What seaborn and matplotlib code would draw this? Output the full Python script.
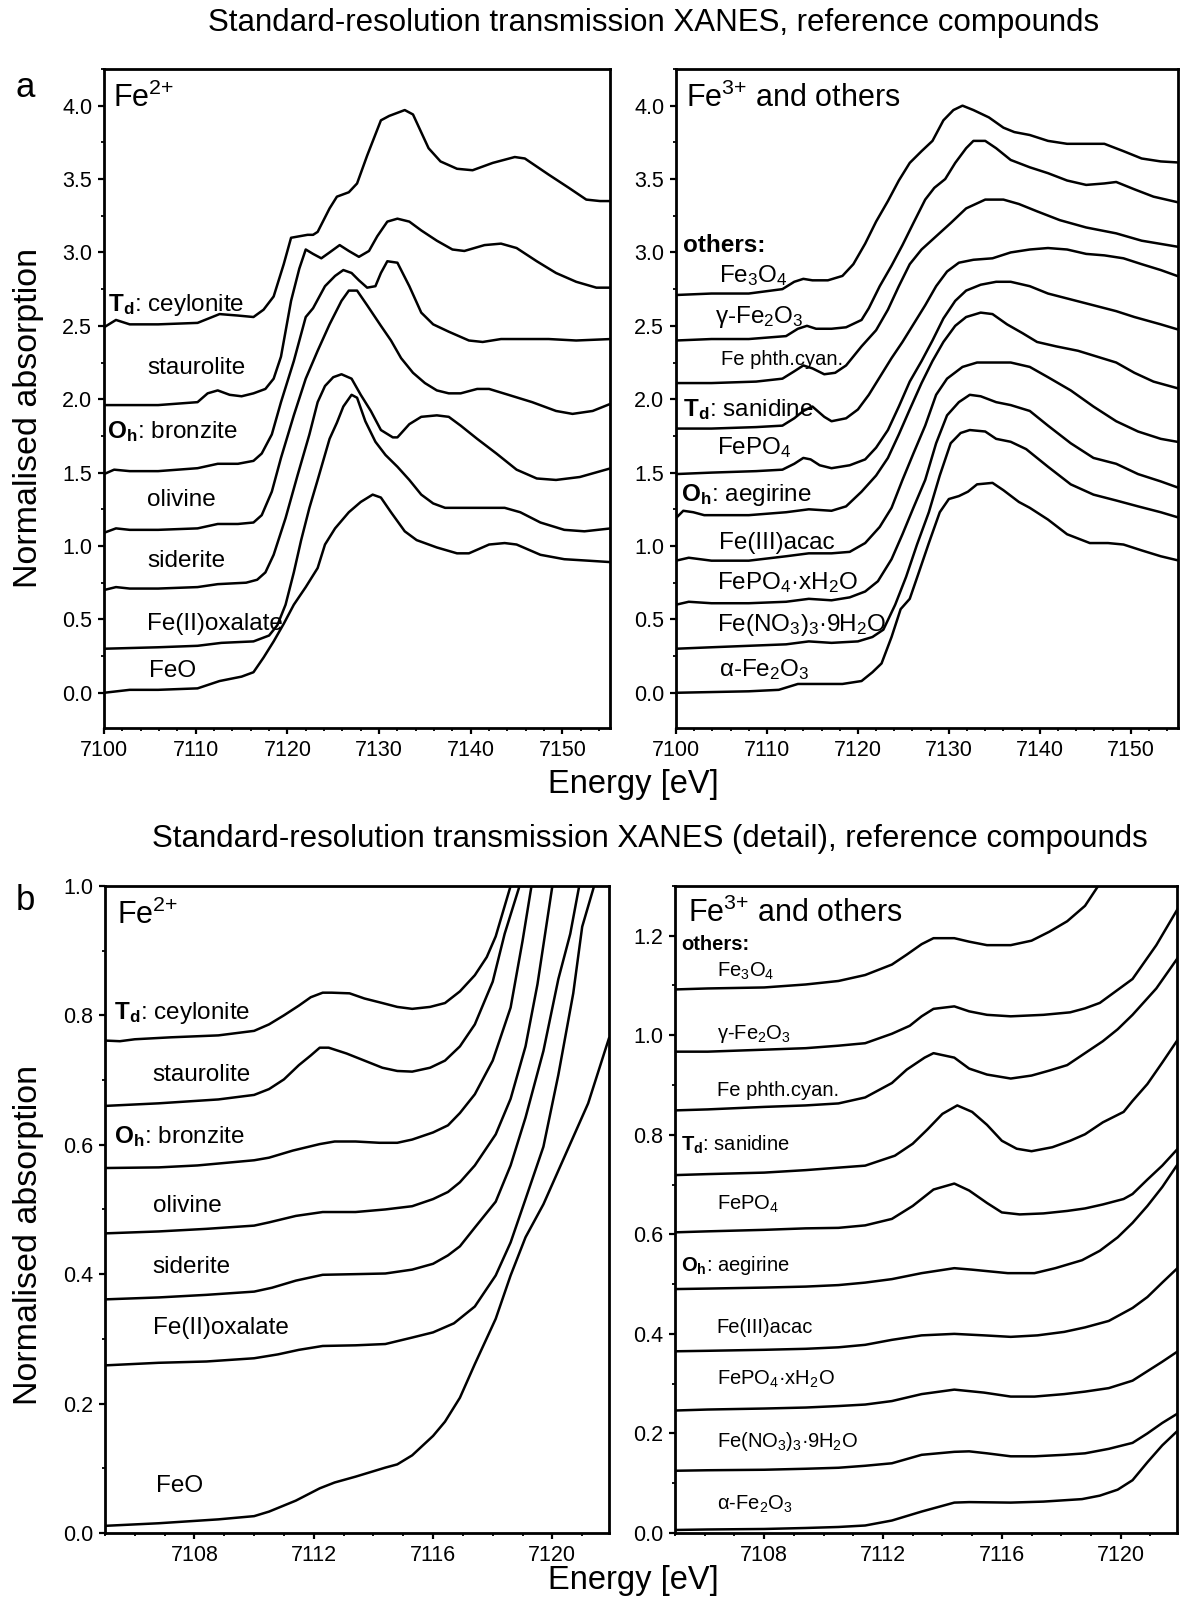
import numpy as np
import pandas as pd
import matplotlib
matplotlib.use("Agg")
import matplotlib.pyplot as plt
from matplotlib.ticker import MultipleLocator, FormatStrFormatter
import seaborn as sns

# ---------------- data: top-left (Fe2+), displayed (offset) values ----------------
ceylonite_E = [7100, 7101.3, 7102.8, 7105.9, 7110.2, 7112.6, 7114.6, 7116.3, 7117.4, 7118.5, 7119.6, 7120.4, 7122.2, 7122.8, 7123.3, 7124.6, 7125.4, 7126.7, 7127.6, 7128.7, 7130.2, 7131.1, 7132.8, 7133.7, 7135.4, 7136.7, 7138.5, 7140.2, 7142.4, 7144.8, 7145.9, 7148.5, 7150.7, 7152.6, 7154.1, 7155.3]
ceylonite_mu = [2.49, 2.54, 2.51, 2.51, 2.52, 2.58, 2.57, 2.56, 2.61, 2.70, 2.92, 3.10, 3.12, 3.12, 3.14, 3.30, 3.38, 3.41, 3.47, 3.66, 3.90, 3.93, 3.97, 3.94, 3.71, 3.62, 3.57, 3.56, 3.61, 3.65, 3.64, 3.53, 3.44, 3.36, 3.35, 3.35]
staurolite_E = [7100, 7105.9, 7110.2, 7111.3, 7112.4, 7113.7, 7115, 7116.3, 7117.6, 7118.5, 7119.3, 7120.4, 7121.3, 7122, 7122.8, 7123.7, 7124.6, 7125.7, 7126.7, 7127.8, 7128.9, 7129.8, 7130.9, 7132, 7133.3, 7134.6, 7136.3, 7138, 7139.3, 7141.5, 7143.3, 7145, 7147.2, 7149.3, 7151.5, 7153.7, 7155.3]
staurolite_mu = [1.96, 1.96, 1.98, 2.04, 2.06, 2.03, 2.02, 2.04, 2.07, 2.14, 2.29, 2.67, 2.89, 3.02, 2.99, 2.96, 3.00, 3.05, 3.01, 2.97, 3.01, 3.11, 3.21, 3.23, 3.21, 3.15, 3.08, 3.02, 3.01, 3.05, 3.06, 3.03, 2.94, 2.86, 2.80, 2.76, 2.76]
bronzite_E = [7100, 7101.1, 7102.8, 7105.9, 7110.2, 7112.4, 7114.6, 7116.3, 7117.2, 7118.3, 7119.3, 7120.7, 7122, 7122.8, 7124.1, 7125.2, 7126.1, 7127, 7127.8, 7128.7, 7129.6, 7130.2, 7130.9, 7132, 7133.3, 7134.6, 7135.9, 7137.6, 7139.8, 7141.3, 7143.3, 7145.9, 7148.5, 7151.5, 7155.3]
bronzite_mu = [1.49, 1.52, 1.51, 1.51, 1.53, 1.56, 1.56, 1.58, 1.63, 1.76, 1.98, 2.26, 2.56, 2.62, 2.77, 2.84, 2.88, 2.86, 2.81, 2.76, 2.77, 2.86, 2.94, 2.93, 2.77, 2.59, 2.51, 2.46, 2.40, 2.39, 2.41, 2.41, 2.41, 2.40, 2.41]
olivine_E = [7100, 7101.3, 7102.8, 7105.9, 7110.2, 7112.4, 7114.6, 7116.3, 7117.2, 7118.3, 7119.3, 7120.7, 7122, 7123.3, 7124.6, 7125.9, 7126.7, 7127.6, 7128.7, 7130.2, 7131.3, 7132.4, 7133.7, 7135, 7136.3, 7137.6, 7138.9, 7140.7, 7142, 7144.1, 7146.7, 7149.3, 7151.1, 7153.3, 7155.3]
olivine_mu = [1.09, 1.12, 1.11, 1.11, 1.12, 1.15, 1.15, 1.16, 1.21, 1.37, 1.60, 1.89, 2.14, 2.33, 2.51, 2.67, 2.74, 2.74, 2.64, 2.50, 2.40, 2.28, 2.18, 2.11, 2.06, 2.04, 2.04, 2.07, 2.07, 2.03, 1.98, 1.92, 1.90, 1.92, 1.97]
siderite_E = [7100, 7101.3, 7102.8, 7105.9, 7110.2, 7112.4, 7115.5, 7116.7, 7117.6, 7118.5, 7119.8, 7121.1, 7122.4, 7123.3, 7124.1, 7125, 7125.9, 7127, 7128, 7129.1, 7130.2, 7131.5, 7132, 7133.3, 7134.6, 7136.3, 7137.6, 7138.9, 7140.7, 7142.8, 7145, 7147.2, 7149.3, 7151.9, 7155.3]
siderite_mu = [0.70, 0.72, 0.71, 0.71, 0.72, 0.74, 0.75, 0.77, 0.82, 0.94, 1.19, 1.48, 1.76, 1.98, 2.09, 2.15, 2.17, 2.14, 2.03, 1.92, 1.79, 1.74, 1.74, 1.83, 1.88, 1.89, 1.88, 1.82, 1.73, 1.63, 1.52, 1.46, 1.45, 1.47, 1.53]
oxalate_E = [7100, 7105.9, 7110.2, 7112.8, 7116.3, 7118, 7118.9, 7119.8, 7120.7, 7121.5, 7122.4, 7123.3, 7124.6, 7125.4, 7126.1, 7127, 7127.6, 7128.5, 7129.6, 7130.7, 7132, 7133.3, 7134.6, 7135.9, 7137.2, 7139.3, 7141.5, 7143.7, 7145.4, 7147.6, 7150.2, 7152.4, 7155.3]
oxalate_mu = [0.30, 0.31, 0.32, 0.34, 0.35, 0.39, 0.46, 0.60, 0.82, 1.04, 1.26, 1.45, 1.73, 1.84, 1.95, 2.03, 2.01, 1.85, 1.71, 1.62, 1.54, 1.45, 1.35, 1.29, 1.26, 1.26, 1.26, 1.26, 1.23, 1.16, 1.11, 1.10, 1.12]
feo_E = [7100, 7102.8, 7105.9, 7110.2, 7112.6, 7115, 7116.3, 7117.4, 7118.5, 7119.6, 7120.7, 7122, 7123.3, 7124.1, 7125.2, 7126.7, 7128, 7129.3, 7130.2, 7131.3, 7132.8, 7134.1, 7136.3, 7138.5, 7139.8, 7142, 7143.7, 7145, 7147.6, 7150.2, 7152.8, 7155.3]
feo_mu = [0.00, 0.02, 0.02, 0.03, 0.08, 0.11, 0.14, 0.24, 0.35, 0.47, 0.60, 0.72, 0.85, 1.01, 1.12, 1.23, 1.30, 1.35, 1.33, 1.23, 1.10, 1.04, 0.99, 0.95, 0.95, 1.01, 1.02, 1.01, 0.94, 0.91, 0.90, 0.89]

# ---------------- data: top-right (Fe3+ and others) ----------------
fe3o4_E = [7100, 7103.9, 7108, 7111.7, 7113, 7114, 7115, 7116.7, 7118.3, 7119.5, 7120.8, 7122, 7123.3, 7124.5, 7125.7, 7127, 7128.2, 7129.4, 7130.5, 7131.5, 7132.7, 7134.4, 7136, 7137.2, 7138.9, 7140.9, 7143, 7145.5, 7147.1, 7149.2, 7151.2, 7153.3, 7156]
fe3o4_mu = [2.71, 2.72, 2.72, 2.75, 2.80, 2.82, 2.81, 2.81, 2.84, 2.92, 3.06, 3.21, 3.35, 3.49, 3.61, 3.69, 3.76, 3.90, 3.97, 4.00, 3.97, 3.92, 3.85, 3.82, 3.80, 3.76, 3.74, 3.74, 3.74, 3.69, 3.64, 3.62, 3.61]
gfe2o3_E = [7100, 7103.9, 7108, 7112.1, 7113.4, 7114.4, 7115.4, 7117.1, 7118.7, 7120.4, 7121.2, 7122.4, 7123.7, 7124.9, 7126.1, 7127.4, 7128.4, 7129.6, 7130.7, 7131.9, 7132.7, 7134, 7135.2, 7136.8, 7138.9, 7140.9, 7143, 7145.1, 7147.1, 7148.4, 7150.4, 7152.5, 7156]
gfe2o3_mu = [2.40, 2.41, 2.41, 2.43, 2.48, 2.50, 2.48, 2.48, 2.49, 2.54, 2.62, 2.77, 2.91, 3.05, 3.20, 3.36, 3.44, 3.50, 3.61, 3.71, 3.76, 3.76, 3.71, 3.63, 3.58, 3.54, 3.49, 3.46, 3.47, 3.48, 3.43, 3.38, 3.33]
phth_E = [7100, 7103.9, 7108.8, 7111.7, 7113, 7114, 7115, 7116.3, 7117.5, 7118.7, 7120.4, 7122, 7123.3, 7124.5, 7125.7, 7127, 7128.6, 7130.2, 7131.9, 7134, 7136, 7137.7, 7139.7, 7142.2, 7145.1, 7148.4, 7151.2, 7156]
phth_mu = [2.11, 2.11, 2.12, 2.14, 2.19, 2.23, 2.21, 2.17, 2.18, 2.23, 2.36, 2.47, 2.61, 2.77, 2.92, 3.02, 3.11, 3.20, 3.30, 3.36, 3.36, 3.33, 3.28, 3.22, 3.17, 3.13, 3.08, 3.03]
sanidine_E = [7100, 7103.9, 7108.8, 7111.7, 7113, 7114, 7115, 7116.3, 7117.1, 7118.7, 7120, 7121.2, 7122.4, 7123.7, 7124.9, 7126.1, 7127.4, 7128.6, 7129.8, 7131.1, 7132.7, 7134.8, 7136.8, 7138.9, 7140.9, 7143, 7145.1, 7147.1, 7149.2, 7151.2, 7153.3, 7156]
sanidine_mu = [1.80, 1.80, 1.81, 1.82, 1.87, 1.92, 1.95, 1.88, 1.85, 1.87, 1.93, 2.03, 2.15, 2.28, 2.39, 2.51, 2.64, 2.77, 2.87, 2.93, 2.95, 2.96, 3.00, 3.02, 3.03, 3.02, 2.99, 2.98, 2.96, 2.92, 2.88, 2.82]
fepo4_E = [7100, 7103.9, 7108.8, 7111.7, 7113, 7114, 7114.8, 7115.8, 7117.1, 7119.1, 7120.8, 7122, 7123.3, 7124.5, 7125.7, 7127, 7128.2, 7129.4, 7130.7, 7131.9, 7133.5, 7135.2, 7136.8, 7138.9, 7140.9, 7143.4, 7145.9, 7148.4, 7150.4, 7153.3, 7156]
fepo4_mu = [1.49, 1.50, 1.51, 1.52, 1.56, 1.60, 1.59, 1.55, 1.53, 1.55, 1.59, 1.67, 1.79, 1.95, 2.12, 2.26, 2.40, 2.55, 2.67, 2.74, 2.78, 2.80, 2.80, 2.77, 2.72, 2.68, 2.64, 2.60, 2.56, 2.51, 2.46]
aegirine_E = [7100, 7100.8, 7101.9, 7103.1, 7108, 7112.1, 7114.6, 7117.1, 7118.7, 7120.4, 7122, 7123.3, 7124.5, 7125.7, 7127, 7128.2, 7129.4, 7130.7, 7131.9, 7133.5, 7134.8, 7136.4, 7138.1, 7139.7, 7141.8, 7144.2, 7146.3, 7148.4, 7150.4, 7152.5, 7156]
aegirine_mu = [1.19, 1.24, 1.23, 1.21, 1.21, 1.23, 1.25, 1.24, 1.27, 1.37, 1.48, 1.60, 1.76, 1.93, 2.11, 2.26, 2.39, 2.50, 2.56, 2.59, 2.58, 2.51, 2.45, 2.39, 2.36, 2.33, 2.29, 2.25, 2.18, 2.12, 2.06]
acac_E = [7100, 7101.4, 7103.9, 7108, 7112.1, 7114.6, 7117.1, 7119.1, 7120.8, 7122.4, 7123.7, 7124.9, 7126.1, 7127.4, 7128.6, 7129.8, 7131.5, 7133.1, 7135.2, 7136.8, 7138.9, 7140.9, 7143.4, 7145.9, 7148.4, 7150.8, 7153.3, 7156]
acac_mu = [0.90, 0.92, 0.90, 0.90, 0.93, 0.95, 0.95, 0.96, 1.02, 1.13, 1.26, 1.45, 1.63, 1.82, 2.03, 2.14, 2.22, 2.25, 2.25, 2.25, 2.22, 2.15, 2.06, 1.95, 1.85, 1.78, 1.73, 1.70]
xh2o_E = [7100, 7101.4, 7103.9, 7108, 7112.1, 7114.6, 7117.1, 7119.1, 7120.8, 7122.2, 7123.7, 7124.9, 7126.1, 7127.4, 7128.6, 7129.8, 7131.1, 7132.3, 7133.5, 7135.2, 7136.8, 7138.9, 7140.9, 7143.4, 7145.9, 7148.4, 7150.8, 7153.3, 7156]
xh2o_mu = [0.60, 0.62, 0.61, 0.61, 0.62, 0.64, 0.63, 0.65, 0.69, 0.76, 0.91, 1.08, 1.26, 1.45, 1.70, 1.89, 1.98, 2.03, 2.02, 1.98, 1.96, 1.92, 1.82, 1.70, 1.60, 1.56, 1.49, 1.44, 1.38]
nitrate_E = [7100, 7103.9, 7108, 7112.1, 7114.6, 7117.1, 7120, 7121.6, 7122.8, 7124.1, 7125.3, 7126.5, 7127.8, 7129, 7130.2, 7131.3, 7132.3, 7134, 7135.2, 7136.8, 7138.5, 7140.9, 7143.4, 7145.9, 7148.4, 7150.8, 7153.3, 7156]
nitrate_mu = [0.30, 0.31, 0.32, 0.33, 0.35, 0.34, 0.35, 0.38, 0.43, 0.60, 0.79, 1.01, 1.23, 1.48, 1.70, 1.77, 1.79, 1.78, 1.73, 1.71, 1.66, 1.54, 1.42, 1.35, 1.31, 1.27, 1.23, 1.18]
hematite_E = [7100, 7108, 7111.3, 7113.4, 7115.4, 7118.3, 7120.4, 7121.6, 7122.6, 7123.7, 7124.7, 7125.7, 7126.7, 7127.8, 7129, 7130, 7131.1, 7132.1, 7133.1, 7134.8, 7136, 7137.7, 7138.9, 7140.9, 7143, 7145.5, 7147.5, 7149.2, 7151.2, 7153.3, 7156]
hematite_mu = [0.00, 0.01, 0.02, 0.06, 0.06, 0.06, 0.08, 0.14, 0.20, 0.38, 0.57, 0.64, 0.82, 1.02, 1.23, 1.32, 1.34, 1.37, 1.42, 1.43, 1.38, 1.30, 1.26, 1.18, 1.08, 1.02, 1.02, 1.01, 0.97, 0.93, 0.89]

# ---------------- data: bottom-left (pre-edge detail, Fe2+) ----------------
d_ceylonite_E = [7105, 7105.5, 7106, 7107.2, 7108.8, 7110, 7110.5, 7111, 7111.5, 7111.9, 7112.3, 7112.6, 7113.2, 7113.7, 7114.3, 7114.8, 7115.3, 7115.9, 7116.4, 7116.9, 7117.4, 7117.8, 7118.1, 7118.6]
d_ceylonite_mu = [0.761, 0.760, 0.763, 0.766, 0.769, 0.776, 0.786, 0.800, 0.815, 0.828, 0.835, 0.835, 0.834, 0.826, 0.819, 0.813, 0.810, 0.813, 0.819, 0.837, 0.862, 0.890, 0.922, 1.0]
d_staurolite_E = [7105, 7106.8, 7108.8, 7110, 7110.5, 7111, 7111.5, 7111.9, 7112.2, 7112.5, 7113.1, 7113.7, 7114.3, 7114.8, 7115.3, 7115.9, 7116.4, 7116.9, 7117.4, 7118, 7118.4, 7118.9]
d_staurolite_mu = [0.660, 0.664, 0.670, 0.677, 0.686, 0.701, 0.723, 0.738, 0.750, 0.750, 0.741, 0.730, 0.719, 0.714, 0.713, 0.719, 0.730, 0.752, 0.786, 0.852, 0.926, 1.0]
d_bronzite_E = [7105, 7106.8, 7108.1, 7110, 7110.5, 7111.3, 7112.2, 7112.7, 7113.4, 7114.2, 7114.8, 7115.3, 7116, 7116.5, 7116.9, 7117.4, 7118, 7118.6, 7119, 7119.3]
d_bronzite_mu = [0.564, 0.565, 0.568, 0.576, 0.580, 0.591, 0.601, 0.605, 0.605, 0.603, 0.603, 0.608, 0.619, 0.630, 0.649, 0.678, 0.730, 0.812, 0.915, 1.0]
d_olivine_E = [7105, 7106.8, 7108.4, 7110, 7110.5, 7111.4, 7112.3, 7113.4, 7114.4, 7115.3, 7116, 7116.5, 7116.9, 7117.4, 7118.1, 7118.6, 7119.1, 7119.5, 7120]
d_olivine_mu = [0.463, 0.466, 0.470, 0.475, 0.480, 0.490, 0.496, 0.496, 0.500, 0.505, 0.516, 0.527, 0.542, 0.568, 0.616, 0.671, 0.752, 0.848, 1.0]
d_siderite_E = [7105, 7106.8, 7108.4, 7110, 7110.6, 7111.4, 7112.3, 7113.4, 7114.4, 7115.3, 7116, 7116.5, 7116.9, 7117.4, 7118.1, 7118.6, 7119.1, 7119.7, 7120.2, 7120.6, 7120.9]
d_siderite_mu = [0.361, 0.364, 0.368, 0.373, 0.379, 0.390, 0.399, 0.400, 0.401, 0.407, 0.416, 0.429, 0.443, 0.472, 0.512, 0.568, 0.642, 0.745, 0.856, 0.926, 1.0]
d_oxalate_E = [7105, 7106.8, 7108.4, 7110, 7110.8, 7111.5, 7112.3, 7113.4, 7114.4, 7115.3, 7116, 7116.7, 7117.4, 7118.1, 7118.6, 7119.1, 7119.7, 7120.2, 7120.7, 7121, 7121.4]
d_oxalate_mu = [0.259, 0.263, 0.265, 0.270, 0.276, 0.283, 0.289, 0.290, 0.292, 0.302, 0.310, 0.324, 0.350, 0.398, 0.449, 0.516, 0.597, 0.708, 0.834, 0.937, 1.0]
d_feo_E = [7105, 7106.8, 7108.8, 7110, 7110.5, 7111.4, 7112.2, 7112.7, 7113.4, 7114.4, 7114.8, 7115.3, 7116, 7116.4, 7116.9, 7117.4, 7118.1, 7118.6, 7119.1, 7119.7, 7120.2, 7120.7, 7121.2, 7121.9]
d_feo_mu = [0.011, 0.015, 0.021, 0.026, 0.033, 0.050, 0.069, 0.078, 0.087, 0.101, 0.106, 0.120, 0.150, 0.172, 0.209, 0.261, 0.331, 0.398, 0.457, 0.508, 0.560, 0.612, 0.664, 0.765]

# ---------------- data: bottom-right (pre-edge detail, Fe3+ and others) ----------------
d_fe3o4_E = [7105, 7106.1, 7108, 7109.4, 7110.5, 7111.4, 7112.3, 7112.8, 7113.3, 7113.7, 7114.4, 7114.9, 7115.5, 7116.3, 7117, 7117.6, 7118.2, 7118.8, 7119.2, 7119.6]
d_fe3o4_mu = [1.092, 1.094, 1.096, 1.102, 1.109, 1.121, 1.142, 1.162, 1.183, 1.195, 1.195, 1.188, 1.181, 1.181, 1.190, 1.208, 1.229, 1.260, 1.296, 1.33]
d_gfe2o3_E = [7105, 7106.1, 7108, 7109.4, 7110.5, 7111.4, 7112.3, 7112.9, 7113.3, 7113.7, 7114.4, 7114.9, 7115.5, 7116.3, 7117.4, 7118.3, 7118.8, 7119.3, 7120.4, 7121.2, 7122]
d_gfe2o3_mu = [0.967, 0.967, 0.971, 0.974, 0.979, 0.984, 1.003, 1.019, 1.038, 1.053, 1.058, 1.048, 1.041, 1.038, 1.041, 1.046, 1.054, 1.065, 1.113, 1.181, 1.262]
d_phth_E = [7105, 7106.1, 7108, 7109.4, 7110.5, 7111.4, 7112.3, 7112.8, 7113.4, 7113.7, 7114.4, 7114.9, 7115.5, 7116.3, 7117, 7117.6, 7118.2, 7118.8, 7119.4, 7119.9, 7120.4, 7121.2, 7122]
d_phth_mu = [0.849, 0.851, 0.856, 0.859, 0.863, 0.875, 0.904, 0.931, 0.955, 0.964, 0.955, 0.933, 0.921, 0.913, 0.919, 0.929, 0.940, 0.964, 0.988, 1.012, 1.041, 1.094, 1.162]
d_sanidine_E = [7105, 7106.1, 7108, 7109.4, 7110.5, 7111.4, 7112.4, 7113, 7113.5, 7114, 7114.5, 7115, 7115.5, 7116, 7116.5, 7117, 7117.7, 7118.3, 7118.8, 7119.4, 7120.1, 7120.4, 7120.9, 7121.4, 7122]
d_sanidine_mu = [0.719, 0.721, 0.724, 0.729, 0.734, 0.738, 0.758, 0.782, 0.811, 0.842, 0.859, 0.846, 0.820, 0.788, 0.772, 0.767, 0.775, 0.788, 0.801, 0.825, 0.846, 0.868, 0.902, 0.945, 0.998]
d_fepo4_E = [7105, 7106.1, 7108, 7109.4, 7110.5, 7111.4, 7112.3, 7113, 7113.7, 7114.4, 7114.9, 7115.5, 7116, 7116.6, 7117.4, 7118.2, 7118.8, 7119.4, 7120.1, 7120.4, 7120.9, 7121.4, 7122]
d_fepo4_mu = [0.604, 0.606, 0.609, 0.612, 0.613, 0.618, 0.631, 0.657, 0.690, 0.702, 0.688, 0.663, 0.644, 0.640, 0.642, 0.647, 0.652, 0.660, 0.671, 0.681, 0.710, 0.738, 0.777]
d_aegirine_E = [7105, 7106.1, 7108, 7109.4, 7110.5, 7111.4, 7112.3, 7113.3, 7114.4, 7115, 7116.2, 7117.1, 7117.8, 7118.7, 7119.3, 7119.9, 7120.4, 7120.9, 7121.4, 7122]
d_aegirine_mu = [0.490, 0.491, 0.493, 0.495, 0.498, 0.503, 0.510, 0.522, 0.532, 0.529, 0.522, 0.522, 0.532, 0.548, 0.567, 0.594, 0.623, 0.657, 0.695, 0.748]
d_acac_E = [7105, 7106.1, 7108, 7109.4, 7110.5, 7111.4, 7112.3, 7113.3, 7114.4, 7115.4, 7116.3, 7117.2, 7118.1, 7118.8, 7119.6, 7120.4, 7120.9, 7121.4, 7122]
d_acac_mu = [0.365, 0.366, 0.368, 0.370, 0.373, 0.378, 0.388, 0.397, 0.400, 0.397, 0.394, 0.397, 0.404, 0.413, 0.426, 0.452, 0.474, 0.503, 0.537]
d_xh2o_E = [7105, 7106.1, 7108, 7109.4, 7110.5, 7111.4, 7112.3, 7113.3, 7114.4, 7115.4, 7116.3, 7117.1, 7118.1, 7118.8, 7119.6, 7120.4, 7120.9, 7121.4, 7122]
d_xh2o_mu = [0.246, 0.248, 0.250, 0.252, 0.255, 0.258, 0.265, 0.279, 0.288, 0.282, 0.274, 0.274, 0.279, 0.284, 0.291, 0.306, 0.325, 0.344, 0.368]
d_nitrate_E = [7105, 7106.1, 7108, 7109.4, 7110.5, 7111.4, 7112.3, 7113.3, 7114.4, 7114.9, 7115.5, 7116.3, 7117.1, 7118.1, 7118.8, 7119.6, 7120.4, 7120.9, 7121.4, 7122]
d_nitrate_mu = [0.125, 0.126, 0.127, 0.129, 0.131, 0.135, 0.140, 0.157, 0.163, 0.164, 0.160, 0.154, 0.154, 0.157, 0.160, 0.169, 0.181, 0.200, 0.221, 0.243]
d_hematite_E = [7105, 7106.1, 7108, 7109.4, 7110.5, 7111.4, 7112.3, 7113.3, 7114.4, 7114.9, 7116.3, 7117.4, 7118.7, 7119.3, 7119.9, 7120.4, 7120.9, 7121.4, 7122]
d_hematite_mu = [0.006, 0.007, 0.008, 0.010, 0.012, 0.015, 0.025, 0.043, 0.061, 0.062, 0.061, 0.063, 0.068, 0.075, 0.087, 0.106, 0.142, 0.176, 0.210]

# ---------------- labels ----------------
tl_labels = [r"$\mathbf{T_d}$: ceylonite", "staurolite", r"$\mathbf{O_h}$: bronzite", "olivine", "siderite", "Fe(II)oxalate", "FeO"]
tl_label_x = [7100.4, 7104.7, 7100.3, 7104.7, 7104.7, 7104.7, 7104.9]
tl_label_y = [2.64, 2.21, 1.78, 1.31, 0.90, 0.47, 0.15]

tr_labels = [r"Fe$_3$O$_4$", r"γ-Fe$_2$O$_3$", "Fe phth.cyan.", r"$\mathbf{T_d}$: sanidine", r"FePO$_4$",
             r"$\mathbf{O_h}$: aegirine", "Fe(III)acac", r"FePO$_4$·xH$_2$O", r"Fe(NO$_3$)$_3$·9H$_2$O", r"α-Fe$_2$O$_3$"]
tr_label_x = [7104.7, 7104.3, 7104.9, 7100.8, 7104.5, 7100.6, 7104.7, 7104.5, 7104.5, 7104.7]
tr_label_y = [2.84, 2.56, 2.27, 1.93, 1.67, 1.35, 1.02, 0.75, 0.46, 0.16]

bl_label_x = [7105.3, 7106.6, 7105.3, 7106.6, 7106.6, 7106.6, 7106.7]
bl_label_y = [0.804, 0.708, 0.612, 0.505, 0.411, 0.316, 0.072]

br_label_x = [7106.4, 7106.4, 7106.4, 7105.2, 7106.4, 7105.2, 7106.4, 7106.4, 7106.4, 7106.4]
br_label_y = [1.128, 1.003, 0.888, 0.779, 0.660, 0.537, 0.413, 0.308, 0.183, 0.058]


def long_frame(pairs):
    frames = []
    for name, e, m in pairs:
        frames.append(pd.DataFrame({"E": e, "mu": m, "compound": name}))
    return pd.concat(frames, ignore_index=True)


tl_df = long_frame([("ceylonite", ceylonite_E, ceylonite_mu), ("staurolite", staurolite_E, staurolite_mu),
                    ("bronzite", bronzite_E, bronzite_mu), ("olivine", olivine_E, olivine_mu),
                    ("siderite", siderite_E, siderite_mu), ("oxalate", oxalate_E, oxalate_mu),
                    ("FeO", feo_E, feo_mu)])
tr_df = long_frame([("Fe3O4", fe3o4_E, fe3o4_mu), ("gFe2O3", gfe2o3_E, gfe2o3_mu), ("phth", phth_E, phth_mu),
                    ("sanidine", sanidine_E, sanidine_mu), ("FePO4", fepo4_E, fepo4_mu),
                    ("aegirine", aegirine_E, aegirine_mu), ("acac", acac_E, acac_mu),
                    ("xH2O", xh2o_E, xh2o_mu), ("nitrate", nitrate_E, nitrate_mu),
                    ("hematite", hematite_E, hematite_mu)])
bl_df = long_frame([("ceylonite", d_ceylonite_E, d_ceylonite_mu), ("staurolite", d_staurolite_E, d_staurolite_mu),
                    ("bronzite", d_bronzite_E, d_bronzite_mu), ("olivine", d_olivine_E, d_olivine_mu),
                    ("siderite", d_siderite_E, d_siderite_mu), ("oxalate", d_oxalate_E, d_oxalate_mu),
                    ("FeO", d_feo_E, d_feo_mu)])
br_df = long_frame([("Fe3O4", d_fe3o4_E, d_fe3o4_mu), ("gFe2O3", d_gfe2o3_E, d_gfe2o3_mu),
                    ("phth", d_phth_E, d_phth_mu), ("sanidine", d_sanidine_E, d_sanidine_mu),
                    ("FePO4", d_fepo4_E, d_fepo4_mu), ("aegirine", d_aegirine_E, d_aegirine_mu),
                    ("acac", d_acac_E, d_acac_mu), ("xH2O", d_xh2o_E, d_xh2o_mu),
                    ("nitrate", d_nitrate_E, d_nitrate_mu), ("hematite", d_hematite_E, d_hematite_mu)])

# ---------------- style ----------------
sns.set_theme(style="ticks")
plt.rcParams["font.family"] = ["Liberation Sans", "DejaVu Sans"]
plt.rcParams["mathtext.fontset"] = "custom"
plt.rcParams["mathtext.rm"] = "Liberation Sans"
plt.rcParams["mathtext.it"] = "Liberation Sans:italic"
plt.rcParams["mathtext.bf"] = "Liberation Sans:bold"
plt.rcParams["text.color"] = "black"
plt.rcParams["axes.labelcolor"] = "black"
plt.rcParams["xtick.color"] = "black"
plt.rcParams["ytick.color"] = "black"

fig = plt.figure(figsize=(11.81, 16.0), dpi=100)
fig.patch.set_facecolor("white")

ax_tl = fig.add_axes([0.0881, 0.545, 0.4285, 0.4119])
ax_tr = fig.add_axes([0.5724, 0.545, 0.4251, 0.4119])
ax_bl = fig.add_axes([0.0889, 0.0419, 0.4268, 0.4044])
ax_br = fig.add_axes([0.5716, 0.0419, 0.4251, 0.4044])

LW = 1.8
for ax, df in [(ax_tl, tl_df), (ax_tr, tr_df), (ax_bl, bl_df), (ax_br, br_df)]:
    sns.lineplot(data=df, x="E", y="mu", units="compound", estimator=None, sort=False,
                 color="black", lw=LW, ax=ax, legend=False, solid_joinstyle="round")
    ax.set_xlabel("")
    ax.set_ylabel("")
    for sp in ax.spines.values():
        sp.set_linewidth(2.0)
        sp.set_color("black")
        sp.set_visible(True)
    ax.tick_params(axis="both", which="major", direction="out", length=4.5, width=1.6,
                   labelsize=15.5, pad=4)
    ax.tick_params(axis="both", which="minor", direction="out", length=2.5, width=1.3)
    ax.yaxis.set_major_formatter(FormatStrFormatter("%.1f"))
    ax.set_facecolor("white")

for ax in (ax_tl, ax_tr):
    ax.set_xlim(7100, 7155.2)
    ax.set_ylim(-0.24, 4.25)
    ax.xaxis.set_major_locator(MultipleLocator(10))
    ax.xaxis.set_minor_locator(MultipleLocator(2))
    ax.yaxis.set_major_locator(MultipleLocator(0.5))
    ax.yaxis.set_minor_locator(MultipleLocator(0.25))
    ax.xaxis.set_major_formatter(FormatStrFormatter("%d"))

for ax in (ax_bl, ax_br):
    ax.set_xlim(7105, 7121.9)
    ax.xaxis.set_major_locator(MultipleLocator(4))
    ax.xaxis.set_minor_locator(MultipleLocator(1))
    ax.yaxis.set_major_locator(MultipleLocator(0.2))
    ax.yaxis.set_minor_locator(MultipleLocator(0.1))
    ax.xaxis.set_major_formatter(FormatStrFormatter("%d"))
ax_bl.set_ylim(0, 1.0)
ax_br.set_ylim(0, 1.3)

# panel headers
FE2 = r"Fe$^{\text{2+}}$"
FE3 = r"Fe$^{\text{3+}}$ and others"
ax_tl.text(7101.0, 4.05, FE2, fontsize=22, ha="left", va="center")
ax_tr.text(7101.1, 4.05, FE3, fontsize=22, ha="left", va="center")
ax_bl.text(7105.4, 0.955, FE2, fontsize=22, ha="left", va="center")
ax_br.text(7105.45, 1.245, FE3, fontsize=22, ha="left", va="center")

# curve labels
for t, x, y in zip(tl_labels, tl_label_x, tl_label_y):
    ax_tl.text(x, y, t, fontsize=17.5, ha="left", va="center")
for t, x, y in zip(tl_labels, bl_label_x, bl_label_y):
    ax_bl.text(x, y, t, fontsize=17.5, ha="left", va="center")
ax_tr.text(7100.8, 3.05, "others:", fontsize=17.5, fontweight="bold", ha="left", va="center")
for i, (t, x, y) in enumerate(zip(tr_labels, tr_label_x, tr_label_y)):
    fs = 14.5 if i == 2 else 17.5
    ax_tr.text(x, y, t, fontsize=fs, ha="left", va="center")
ax_br.text(7105.2, 1.183, "others:", fontsize=14.5, fontweight="bold", ha="left", va="center")
for t, x, y in zip(tr_labels, br_label_x, br_label_y):
    ax_br.text(x, y, t, fontsize=14.5, ha="left", va="center")

# figure texts
fig.text(0.553, 0.9855, "Standard-resolution transmission XANES, reference compounds",
         fontsize=22.5, ha="center", va="center")
fig.text(0.5505, 0.4756, "Standard-resolution transmission XANES (detail), reference compounds",
         fontsize=22.5, ha="center", va="center")
fig.text(0.536, 0.51, "Energy [eV]", fontsize=23.5, ha="center", va="center")
fig.text(0.536, 0.0125, "Energy [eV]", fontsize=23.5, ha="center", va="center")
fig.text(0.0245, 0.739, "Normalised absorption", fontsize=24.5, rotation=90, ha="center", va="center")
fig.text(0.0245, 0.228, "Normalised absorption", fontsize=24.5, rotation=90, ha="center", va="center")
fig.text(0.0216, 0.9456, "a", fontsize=25, ha="center", va="center")
fig.text(0.0216, 0.4375, "b", fontsize=25, ha="center", va="center")

fig.savefig("out.png", dpi=100, facecolor="white")
